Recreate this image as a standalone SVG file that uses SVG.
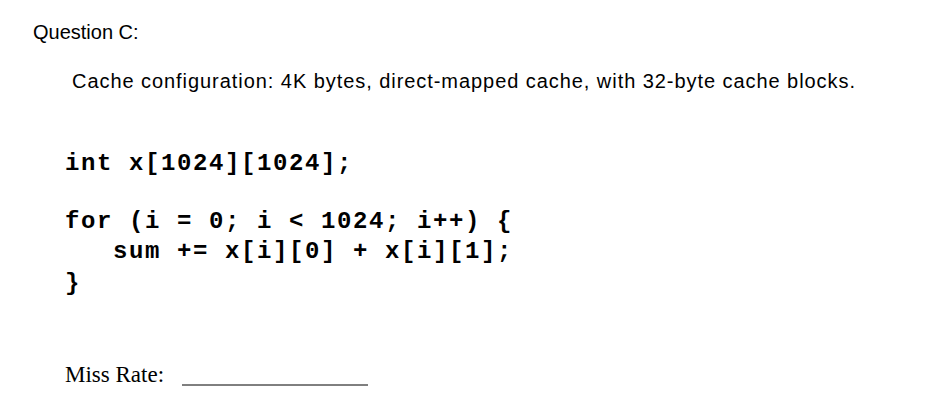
<svg xmlns="http://www.w3.org/2000/svg" width="952" height="418" viewBox="0 0 952 418">
<style>
.s{font-family:"Liberation Sans",Arial,sans-serif;font-size:20px;fill:#000}
.c{font-family:"Liberation Mono","Courier New",monospace;font-weight:bold;font-size:24px;letter-spacing:1.6px;fill:#000}
.t{font-family:"Liberation Serif","Times New Roman",serif;font-size:23px;fill:#000}
</style>
<rect width="952" height="418" fill="#fff"/>
<text class="s" x="33" y="39">Question C:</text>
<text class="s" x="72" y="88" textLength="783">Cache configuration:  4K bytes, direct-mapped cache, with 32-byte cache blocks.</text>
<text class="c" x="65" y="170" xml:space="preserve">int x[1024][1024];</text>
<text class="c" x="65" y="228" xml:space="preserve">for (i = 0; i &lt; 1024; i++) {</text>
<text class="c" x="65" y="258" xml:space="preserve">   sum += x[i][0] + x[i][1];</text>
<text class="c" x="65" y="290">}</text>
<text class="t" x="65" y="382">Miss Rate:</text>
<line x1="182" y1="385" x2="368" y2="385" stroke="#000" stroke-width="1"/>
</svg>
